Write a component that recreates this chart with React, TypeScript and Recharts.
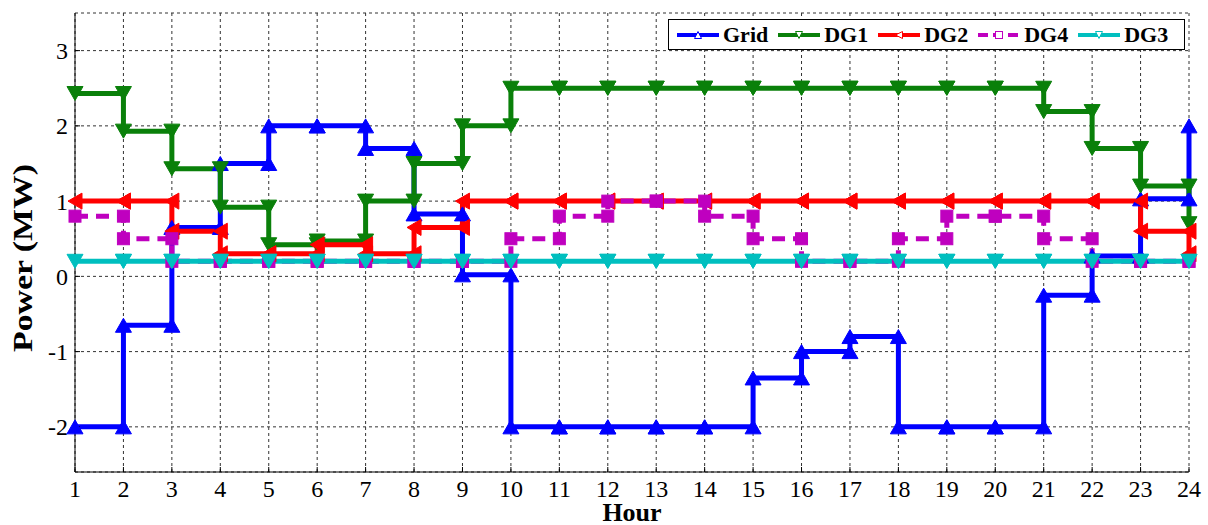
import React from "react";
import { CartesianGrid, Legend, Line, LineChart, XAxis, YAxis } from "recharts";

const hours = [1, 2, 3, 4, 5, 6, 7, 8, 9, 10, 11, 12, 13, 14, 15, 16, 17, 18, 19, 20, 21, 22, 23, 24];
const yTicks = [-2, -1, 0, 1, 2, 3];

const grid = [-2, -0.65, 0.65, 1.5, 2, 2, 1.7, 0.83, 0.02, -2, -2, -2, -2, -2, -1.35, -1.0, -0.8, -2, -2, -2, -0.25, 0.27, 1.03, 2];
const dg1 = [2.43, 1.93, 1.43, 0.92, 0.42, 0.47, 1.0, 1.5, 2.0, 2.5, 2.5, 2.5, 2.5, 2.5, 2.5, 2.5, 2.5, 2.5, 2.5, 2.5, 2.19, 1.7, 1.2, 0.7];
const dg2 = [1, 1, 0.6, 0.3, 0.3, 0.42, 0.3, 0.65, 1, 1, 1, 1, 1, 1, 1, 1, 1, 1, 1, 1, 1, 1, 0.6, 0.3];
const dg4 = [0.8, 0.5, 0.2, 0.2, 0.2, 0.2, 0.2, 0.2, 0.2, 0.5, 0.8, 1.0, 1.0, 0.8, 0.5, 0.2, 0.2, 0.5, 0.8, 0.8, 0.5, 0.2, 0.2, 0.2];
const dg3 = [0.2, 0.2, 0.2, 0.2, 0.2, 0.2, 0.2, 0.2, 0.2, 0.2, 0.2, 0.2, 0.2, 0.2, 0.2, 0.2, 0.2, 0.2, 0.2, 0.2, 0.2, 0.2, 0.2, 0.2];

type Kind = "up" | "down" | "left" | "square";

const series: { name: string; values: number[]; color: string; marker: Kind; dash?: string }[] = [
  { name: "Grid", values: grid, color: "#0000FF", marker: "up" },
  { name: "DG1", values: dg1, color: "#0A800A", marker: "down" },
  { name: "DG2", values: dg2, color: "#FF0000", marker: "left" },
  { name: "DG4", values: dg4, color: "#BF00BF", marker: "square", dash: "13 8" },
  { name: "DG3", values: dg3, color: "#00BFBF", marker: "down" },
];

// matlab-style stairs: every corner is a vertex (and gets a marker)
function stairs(values: number[]) {
  const pts: { x: number; y: number }[] = [];
  values.forEach((v, i) => {
    if (i > 0) pts.push({ x: hours[i], y: values[i - 1] });
    pts.push({ x: hours[i], y: v });
  });
  return pts;
}

function Marker({ cx, cy, kind, color, w, h, fill }: any) {
  if (cx == null || cy == null) return null;
  const f = fill ?? color;
  if (kind === "square")
    return <rect x={cx - w} y={cy - w} width={w * 2} height={w * 2} fill={f} stroke={color} strokeWidth={1} />;
  let pts = "";
  if (kind === "up") pts = `${cx},${cy - h} ${cx - w},${cy + h} ${cx + w},${cy + h}`;
  if (kind === "down") pts = `${cx},${cy + h} ${cx - w},${cy - h} ${cx + w},${cy - h}`;
  if (kind === "left") pts = `${cx - h},${cy} ${cx + h},${cy - w} ${cx + h},${cy + w}`;
  return <polygon points={pts} fill={f} stroke={color} strokeWidth={1} />;
}

const font = "Liberation Serif, Times New Roman, serif";

function XTick({ x, y, payload }: any) {
  return (
    <text x={x} y={y} dy="0.71em" textAnchor="middle" fontFamily={font} fontSize={24} fill="#000">
      {payload.value}
    </text>
  );
}

function YTick({ x, y, payload }: any) {
  return (
    <text x={x} y={y} dy="0.355em" textAnchor="end" fontFamily={font} fontSize={24} fill="#000">
      {payload.value}
    </text>
  );
}

function LegendBox() {
  return (
    <div
      style={{
        border: "1px solid #000",
        background: "#fff",
        height: 29,
        width: 507,
        boxSizing: "content-box",
        display: "flex",
        alignItems: "center",
        paddingLeft: 8,
        fontFamily: font,
        fontWeight: "bold",
        fontSize: 22,
        color: "#000",
      }}
    >
      {series.map((s) => (
        <div key={s.name} style={{ display: "flex", alignItems: "center", marginRight: 10 }}>
          <svg width={42} height={12} style={{ marginRight: 4 }}>
            <line x1={0} y1={6} x2={42} y2={6} stroke={s.color} strokeWidth={4} strokeDasharray={s.dash ? "10 5" : undefined} />
            <Marker cx={21} cy={6} kind={s.marker} color={s.color} w={3.5} h={3.5} fill="#fff" />
          </svg>
          <span style={{ lineHeight: "29px" }}>{s.name}</span>
        </div>
      ))}
    </div>
  );
}

export default function App() {
  return (
    <div style={{ position: "absolute", left: 0, top: 0, background: "#fff", fontFamily: font }}>
      <LineChart width={1208} height={525} margin={{ top: 13, right: 19, bottom: 0, left: 0 }}>
        <CartesianGrid stroke="#333" strokeDasharray="3 3" strokeWidth={1} />
        <XAxis
          xAxisId={0}
          dataKey="x"
          type="number"
          domain={[1, 24]}
          ticks={hours}
          interval={0}
          height={53}
          stroke="#000"
          tickSize={-5}
          tickMargin={13}
          tick={<XTick />}
          label={() => (
            <text x={632} y={521} textAnchor="middle" fontFamily={font} fontWeight="bold" fontSize={26} fill="#000">
              Hour
            </text>
          )}
        />
        <XAxis xAxisId="top" orientation="top" dataKey="x" type="number" domain={[1, 24]} ticks={hours} interval={0} height={0} stroke="#222" strokeWidth={1.5} tickSize={-5} tick={false} />
        <YAxis
          yAxisId={0}
          type="number"
          domain={[-2.6, 3.5]}
          ticks={yTicks}
          interval={0}
          width={75}
          stroke="#000"
          tickSize={-5}
          tickMargin={12}
          tick={<YTick />}
          label={() => (
            <text
              x={32}
              y={258}
              transform="rotate(-90, 32, 258)"
              textAnchor="middle"
              fontFamily={font}
              fontWeight="bold"
              fontSize={28}
              fill="#000"
              textLength={188}
              lengthAdjust="spacingAndGlyphs"
            >
              Power (MW)
            </text>
          )}
        />
        <YAxis yAxisId="right" orientation="right" type="number" domain={[-2.6, 3.5]} ticks={yTicks} interval={0} width={0} stroke="#000" tickSize={-5} tick={false} />
        {series.map((s) => (
          <Line
            key={s.name}
            xAxisId={0}
            yAxisId={0}
            name={s.name}
            data={stairs(s.values)}
            dataKey="y"
            type="linear"
            stroke={s.color}
            strokeWidth={5}
            strokeDasharray={s.dash}
            isAnimationActive={false}
            activeDot={false}
            dot={(p: any) => (
              <Marker
                key={`${s.name}-${p.index}`}
                cx={p.cx}
                cy={p.cy}
                kind={s.marker}
                color={s.color}
                w={s.marker === "square" ? 6 : 8}
                h={7}
              />
            )}
          />
        ))}
        <Legend
          layout="horizontal"
          verticalAlign="middle"
          align="center"
          wrapperStyle={{ left: 668, top: 19, width: "auto" }}
          content={() => <LegendBox />}
        />
      </LineChart>
    </div>
  );
}
